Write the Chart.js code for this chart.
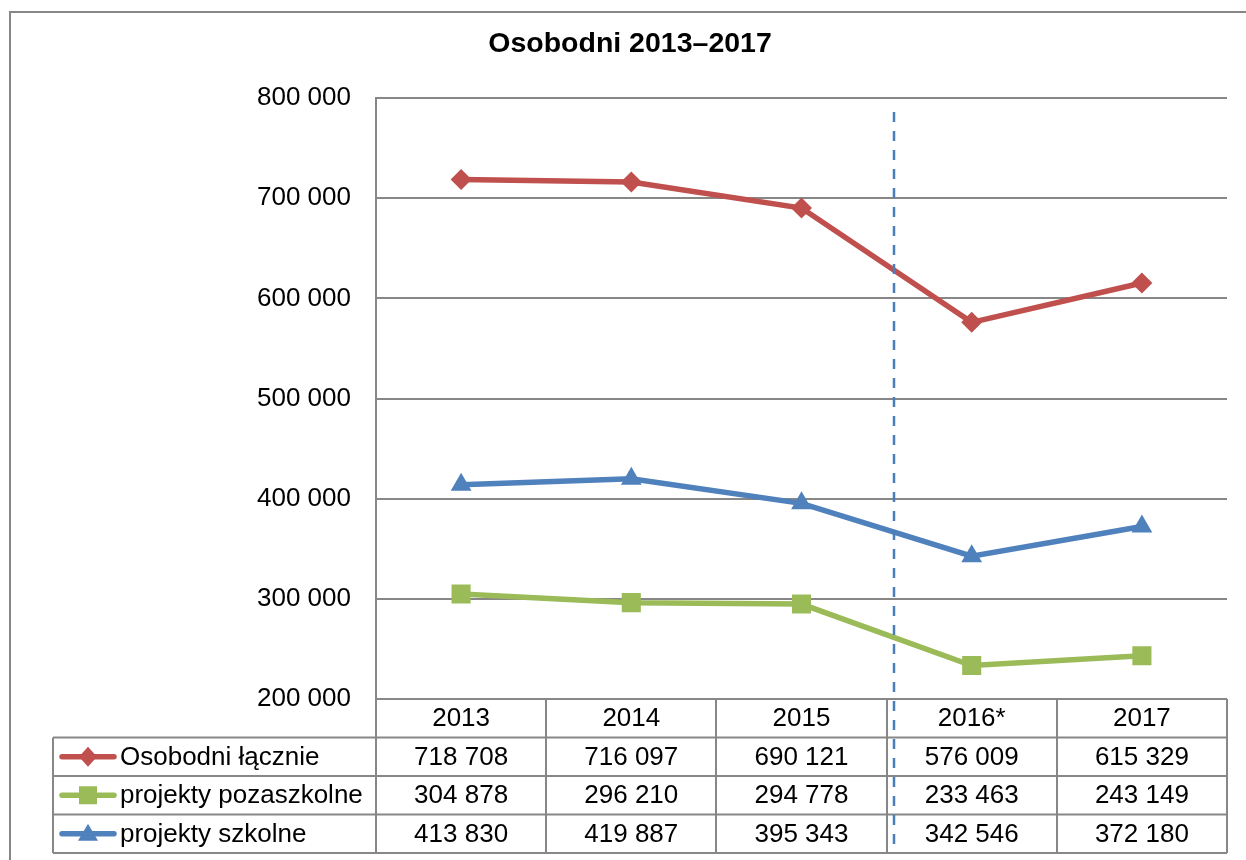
<!DOCTYPE html>
<html>
<head>
<meta charset="utf-8">
<script src="https://cdn.jsdelivr.net/npm/chart.js@4/dist/chart.umd.min.js"></script>
<style>
  body { margin: 0; background: #fff; }
  canvas { display: block; }
</style>
</head>
<body>
<canvas id="chart" width="1246" height="860"></canvas>
<script>
const years = ['2013', '2014', '2015', '2016*', '2017'];
const lacznie = [718708, 716097, 690121, 576009, 615329];
const pozaszkolne = [304878, 296210, 294778, 233463, 243149];
const szkolne = [413830, 419887, 395343, 342546, 372180];
const seriesNames = ['Osobodni łącznie', 'projekty pozaszkolne', 'projekty szkolne'];
const chartTitle = 'Osobodni 2013–2017';

const FONT = "'Liberation Sans', Arial, sans-serif";
const GRAY = '#878787';

function fmt(v) {
  return String(v).replace(/\B(?=(\d{3})+(?!\d))/g, ' ');
}

// table under the plot, title, frame and the dashed separator
const tablePlugin = {
  id: 'tablePlugin',
  afterDraw(chart) {
    const ctx = chart.ctx;
    const area = chart.chartArea;
    const x = chart.scales.x;
    const colW = (area.right - area.left) / years.length;
    const rows = [area.bottom, 737.5, 776, 814.5, 853];
    const tableLeft = 53;

    ctx.save();
    // outer frame
    ctx.strokeStyle = GRAY;
    ctx.lineWidth = 2;
    ctx.strokeRect(10, 12, 1260, 900);

    // title
    ctx.fillStyle = '#000';
    ctx.font = 'bold 28.5px ' + FONT;
    ctx.textAlign = 'center';
    ctx.textBaseline = 'alphabetic';
    ctx.fillText(chartTitle, 630, 52);

    // table lines
    ctx.strokeStyle = GRAY;
    ctx.lineWidth = 2;
    ctx.beginPath();
    for (let i = 0; i <= years.length; i++) {
      const bx = Math.round(area.left + i * colW);
      ctx.moveTo(bx, area.bottom);
      ctx.lineTo(bx, rows[4]);
    }
    for (let r = 1; r < rows.length; r++) {
      ctx.moveTo(tableLeft, rows[r]);
      ctx.lineTo(area.right, rows[r]);
    }
    ctx.moveTo(tableLeft, rows[1]);
    ctx.lineTo(tableLeft, rows[4]);
    ctx.stroke();

    // header
    ctx.font = '26px ' + FONT;
    ctx.textBaseline = 'middle';
    ctx.textAlign = 'center';
    ctx.fillStyle = '#000';
    years.forEach((y, i) => {
      ctx.fillText(y, x.getPixelForValue(i), (rows[0] + rows[1]) / 2 + 1);
    });

    // rows
    chart.data.datasets.forEach((ds, r) => {
      const cy = (rows[r + 1] + rows[r + 2]) / 2 + 1;
      ds.data.forEach((v, i) => {
        ctx.textAlign = 'center';
        ctx.fillText(fmt(v), x.getPixelForValue(i), cy);
      });
      // legend key
      ctx.strokeStyle = ds.borderColor;
      ctx.lineWidth = 5.5;
      ctx.lineCap = 'round';
      ctx.beginPath();
      ctx.moveTo(62, cy - 1);
      ctx.lineTo(114, cy - 1);
      ctx.stroke();
      ctx.fillStyle = ds.borderColor;
      const mx = 88, my = cy - 1;
      ctx.beginPath();
      if (ds.pointStyle === 'rectRot') {
        ctx.moveTo(mx, my - 10); ctx.lineTo(mx + 9, my); ctx.lineTo(mx, my + 10); ctx.lineTo(mx - 9, my);
      } else if (ds.pointStyle === 'rect') {
        ctx.rect(mx - 9, my - 9, 18, 18);
      } else {
        ctx.moveTo(mx, my - 10); ctx.lineTo(mx + 10, my + 7); ctx.lineTo(mx - 10, my + 7);
      }
      ctx.closePath();
      ctx.fill();
      ctx.fillStyle = '#000';
      ctx.textAlign = 'left';
      ctx.fillText(ds.label, 120, cy);
    });

    // dashed separator between 2015 and 2016*
    const dx = Math.round(area.left + 3 * colW) + 7;
    ctx.strokeStyle = '#4A7EBB';
    ctx.lineWidth = 2.5;
    ctx.lineCap = 'butt';
    ctx.setLineDash([10, 9]);
    ctx.beginPath();
    ctx.moveTo(dx, 112);
    ctx.lineTo(dx, 853);
    ctx.stroke();
    ctx.restore();
  }
};

const data = {
  labels: years,
  datasets: [{
    label: seriesNames[0],
    data: lacznie,
    borderColor: '#C0504D',
    backgroundColor: '#C0504D',
    pointStyle: 'rectRot',
    pointRadius: 10.5
  }, {
    label: seriesNames[1],
    data: pozaszkolne,
    borderColor: '#9BBB59',
    backgroundColor: '#9BBB59',
    pointStyle: 'rect',
    pointRadius: 13.5
  }, {
    label: seriesNames[2],
    data: szkolne,
    borderColor: '#4F81BD',
    backgroundColor: '#4F81BD',
    pointStyle: 'triangle',
    pointRadius: 12
  }]
};

data.datasets.forEach(ds => {
  ds.borderWidth = 5.5;
  ds.tension = 0;
  ds.pointBorderWidth = 0;
});

const myChart = new Chart(document.getElementById('chart'), {
  type: 'line',
  data: data,
  plugins: [tablePlugin],
  options: {
    responsive: false,
    animation: false,
    devicePixelRatio: 1,
    layout: { padding: { left: 0, right: 19, top: 98, bottom: 161 } },
    plugins: {
      legend: { display: false },
      title: { display: false },
      tooltip: { enabled: false }
    },
    scales: {
      x: {
        display: false,
        offset: true
      },
      y: {
        min: 200000,
        max: 800000,
        afterFit(axis) { axis.width = 376; },
        ticks: {
          stepSize: 100000,
          color: '#000',
          padding: 25,
          font: { family: FONT, size: 26 },
          callback: v => fmt(v)
        },
        grid: { color: GRAY, lineWidth: 2, drawTicks: false },
        border: { display: true, color: GRAY, width: 2 }
      }
    }
  }
});
</script>
</body>
</html>
